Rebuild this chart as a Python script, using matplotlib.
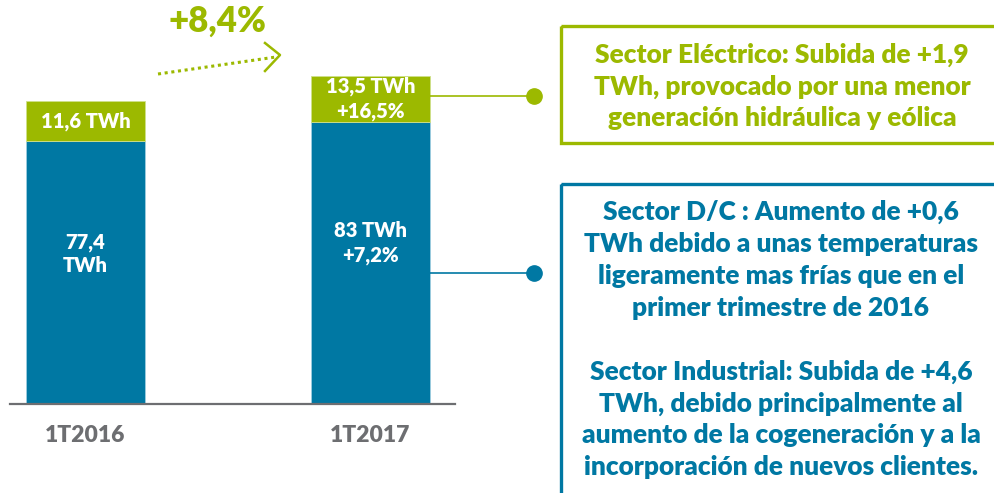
import matplotlib
matplotlib.use("Agg")
import matplotlib.pyplot as plt
from matplotlib.patches import Rectangle

# data
periods = ["1T2016", "1T2017"]
dc_industrial = [77.4, 83.0]      # TWh (blue)
electrico = [11.6, 13.5]          # TWh (green)
dc_change = [None, "+7,2%"]
elec_change = [None, "+16,5%"]
total_change = "+8,4%"

elec_note = ["Sector Eléctrico: Subida de +1,9",
             "TWh, provocado por una menor",
             "generación hidráulica y eólica"]
dc_note = ["Sector D/C : Aumento de +0,6",
           "TWh debido a unas temperaturas",
           "ligeramente mas frías que en el",
           "primer trimestre de 2016",
           "",
           "Sector Industrial: Subida de +4,6",
           "TWh, debido principalmente al",
           "aumento de la cogeneración y a la",
           "incorporación de nuevos clientes."]

BLUE = "#0078a3"
GREEN = "#9cb900"
GREY = "#6d6e71"
FONT = "Lato"
WEIGHT = 800

W, H = 994, 493
fig = plt.figure(figsize=(W / 100, H / 100), dpi=100)


def fmt(v):
    return f"{v:g}".replace(".", ",")


# bar axes, placed in pixel terms
left, right, base = 10, 455, 404
ax = fig.add_axes([left / W, (H - base) / H, (right - left) / W, base / H])
ax.bar(range(2), dc_industrial, width=0.4175, color=BLUE, edgecolor="#9fcde0", linewidth=0.6)
ax.bar(range(2), electrico, bottom=dc_industrial, width=0.4175, color=GREEN,
       edgecolor="#cfe08a", linewidth=0.6)
ax.set_xlim(-0.265, 1.2965)
ax.set_ylim(0, 118.8)
for s in ["top", "left", "right"]:
    ax.spines[s].set_visible(False)
ax.spines["bottom"].set_color(GREY)
ax.spines["bottom"].set_linewidth(1.6)
ax.set_yticks([])
ax.set_xticks(range(2))
ax.set_xticklabels(periods, fontsize=16.5, fontweight=WEIGHT, color=GREY, family=FONT)
ax.tick_params(axis="x", length=0, pad=15)

lab = dict(ha="center", va="center", color="white", fontweight=WEIGHT, family=FONT,
           fontsize=14.5, linespacing=1.3)
for i in range(2):
    g = f"{fmt(electrico[i])} TWh"
    if elec_change[i]:
        g += "\n" + elec_change[i]
    ax.text(i, dc_industrial[i] + electrico[i] / 2, g, **lab)
    if dc_change[i]:
        b = f"{fmt(dc_industrial[i])} TWh\n{dc_change[i]}"
    else:
        b = f"{fmt(dc_industrial[i])}\nTWh"
    ax.text(i, dc_industrial[i] * 0.57, b, **lab)

# overlay in pixel coordinates
ov = fig.add_axes([0, 0, 1, 1])
ov.set_xlim(0, W)
ov.set_ylim(H, 0)
ov.axis("off")

ov.text(217, 21, total_change, ha="center", va="center", color=GREEN, fontsize=25,
        fontweight=WEIGHT, family=FONT)
ov.plot([158, 276], [74, 57], color=GREEN, lw=2.2, ls=(0, (1, 1.2)))
ov.plot([265, 280, 265], [43, 55, 71], color=GREEN, lw=1.8)

# connectors
ov.plot([430, 534], [96, 96], color=GREEN, lw=1.2)
ov.plot(534, 96, "o", color=GREEN, ms=11)
ov.plot([430, 534], [273, 273], color=BLUE, lw=1.2)
ov.plot(534, 273, "o", color=BLUE, ms=11)

# boxes
ov.add_patch(Rectangle((561, 26), 450, 117, fill=False, ec=GREEN, lw=2.4))
ov.add_patch(Rectangle((561, 184), 450, 330, fill=False, ec=BLUE, lw=2.4))

note = dict(ha="center", va="baseline", fontsize=18.9, fontweight=WEIGHT, family=FONT)
for k, line in enumerate(elec_note):
    ov.text(782, 62.5 + k * 31.8, line, color=GREEN, **note)
for k, line in enumerate(dc_note):
    ov.text(781, 220 + k * 31.9, line, color=BLUE, **note)

fig.savefig("out.png", dpi=100)
